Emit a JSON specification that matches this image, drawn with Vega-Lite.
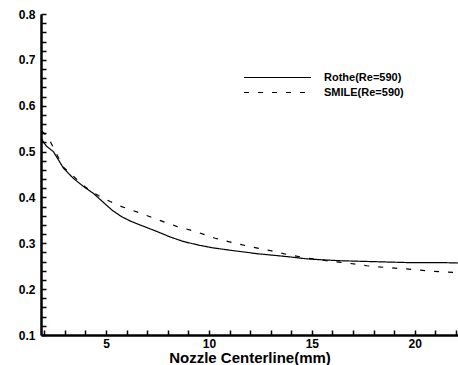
{
  "$schema": "https://vega.github.io/schema/vega-lite/v6.json",
  "width": 417,
  "height": 321,
  "autosize": "none",
  "padding": {"left": 41, "top": 14, "right": 0, "bottom": 30},
  "background": "white",
  "config": {"view": {"stroke": null}, "font": "Liberation Sans"},
  "data": {"values": [
    {"series": "Rothe(Re=590)", "x": 1.84, "y": 0.529},
    {"series": "Rothe(Re=590)", "x": 2.1, "y": 0.512},
    {"series": "Rothe(Re=590)", "x": 2.44, "y": 0.5},
    {"series": "Rothe(Re=590)", "x": 2.93, "y": 0.464},
    {"series": "Rothe(Re=590)", "x": 3.4, "y": 0.442},
    {"series": "Rothe(Re=590)", "x": 3.9, "y": 0.424},
    {"series": "Rothe(Re=590)", "x": 4.38, "y": 0.409},
    {"series": "Rothe(Re=590)", "x": 4.95, "y": 0.386},
    {"series": "Rothe(Re=590)", "x": 5.3, "y": 0.372},
    {"series": "Rothe(Re=590)", "x": 5.76, "y": 0.358},
    {"series": "Rothe(Re=590)", "x": 6.2, "y": 0.348},
    {"series": "Rothe(Re=590)", "x": 6.65, "y": 0.34},
    {"series": "Rothe(Re=590)", "x": 7.46, "y": 0.326},
    {"series": "Rothe(Re=590)", "x": 8.1, "y": 0.314},
    {"series": "Rothe(Re=590)", "x": 8.75, "y": 0.304},
    {"series": "Rothe(Re=590)", "x": 9.5, "y": 0.296},
    {"series": "Rothe(Re=590)", "x": 10.2, "y": 0.29},
    {"series": "Rothe(Re=590)", "x": 11.17, "y": 0.284},
    {"series": "Rothe(Re=590)", "x": 12.4, "y": 0.277},
    {"series": "Rothe(Re=590)", "x": 13.1, "y": 0.274},
    {"series": "Rothe(Re=590)", "x": 14.0, "y": 0.27},
    {"series": "Rothe(Re=590)", "x": 14.75, "y": 0.266},
    {"series": "Rothe(Re=590)", "x": 15.5, "y": 0.264},
    {"series": "Rothe(Re=590)", "x": 16.36, "y": 0.262},
    {"series": "Rothe(Re=590)", "x": 17.98, "y": 0.26},
    {"series": "Rothe(Re=590)", "x": 19.6, "y": 0.258},
    {"series": "Rothe(Re=590)", "x": 21.2, "y": 0.258},
    {"series": "Rothe(Re=590)", "x": 22.1, "y": 0.257},
    {"series": "SMILE(Re=590)", "x": 1.88, "y": 0.545},
    {"series": "SMILE(Re=590)", "x": 2.2, "y": 0.53},
    {"series": "SMILE(Re=590)", "x": 2.5, "y": 0.503},
    {"series": "SMILE(Re=590)", "x": 2.93, "y": 0.466},
    {"series": "SMILE(Re=590)", "x": 3.9, "y": 0.426},
    {"series": "SMILE(Re=590)", "x": 4.4, "y": 0.41},
    {"series": "SMILE(Re=590)", "x": 4.7, "y": 0.402},
    {"series": "SMILE(Re=590)", "x": 5.2, "y": 0.391},
    {"series": "SMILE(Re=590)", "x": 5.76, "y": 0.38},
    {"series": "SMILE(Re=590)", "x": 6.65, "y": 0.366},
    {"series": "SMILE(Re=590)", "x": 7.54, "y": 0.351},
    {"series": "SMILE(Re=590)", "x": 8.43, "y": 0.337},
    {"series": "SMILE(Re=590)", "x": 9.32, "y": 0.326},
    {"series": "SMILE(Re=590)", "x": 10.3, "y": 0.311},
    {"series": "SMILE(Re=590)", "x": 11.1, "y": 0.302},
    {"series": "SMILE(Re=590)", "x": 12.07, "y": 0.292},
    {"series": "SMILE(Re=590)", "x": 12.99, "y": 0.284},
    {"series": "SMILE(Re=590)", "x": 13.85, "y": 0.275},
    {"series": "SMILE(Re=590)", "x": 14.75, "y": 0.268},
    {"series": "SMILE(Re=590)", "x": 15.7, "y": 0.262},
    {"series": "SMILE(Re=590)", "x": 16.7, "y": 0.257},
    {"series": "SMILE(Re=590)", "x": 17.67, "y": 0.251},
    {"series": "SMILE(Re=590)", "x": 18.64, "y": 0.247},
    {"series": "SMILE(Re=590)", "x": 19.6, "y": 0.244},
    {"series": "SMILE(Re=590)", "x": 20.6, "y": 0.24},
    {"series": "SMILE(Re=590)", "x": 21.56, "y": 0.237},
    {"series": "SMILE(Re=590)", "x": 22.1, "y": 0.236}
  ]},
  "resolve": {"axis": {"x": "independent", "y": "independent"}},
  "layer": [
    {
      "mark": {"type": "line", "color": "black", "strokeWidth": 1.2, "clip": true},
      "encoding": {
        "x": {"field": "x", "type": "quantitative",
          "scale": {"domain": [1.84, 22.1], "nice": false, "zero": false},
          "axis": {"orient": "bottom", "ticks": false, "values": [5, 10, 15, 20], "title": "Nozzle Centerline(mm)", "grid": false,
            "domain": true, "domainColor": "black", "domainWidth": 2.5,
            "labelPadding": 3, "labelFont": "Liberation Sans", "labelFontWeight": "bold",
            "labelFontSize": 12, "labelColor": "black", "titleFont": "Liberation Sans", "titleFontWeight": "bold",
            "titleFontSize": 15, "titleColor": "black", "titlePadding": 1}},
        "y": {"field": "y", "type": "quantitative",
          "scale": {"domain": [0.1, 0.8], "nice": false, "zero": false},
          "axis": {"orient": "left", "ticks": false, "values": [0.1, 0.2, 0.3, 0.4, 0.5, 0.6, 0.7, 0.8], "format": ".1f", "title": null, "grid": false,
            "domain": true, "domainColor": "black", "domainWidth": 2.5,
            "labelPadding": 6, "labelFont": "Liberation Sans", "labelFontWeight": "bold",
            "labelFontSize": 12, "labelColor": "black"}},
        "strokeDash": {"field": "series", "type": "nominal",
          "scale": {"domain": ["Rothe(Re=590)", "SMILE(Re=590)"], "range": [[1, 0], [5, 9]]},
          "legend": {"title": null, "orient": "none", "legendX": 227, "legendY": 54,
            "symbolType": "M-3.87,0H3.87", "symbolSize": 300, "symbolStrokeColor": "black", "symbolStrokeWidth": 1.2,
            "labelFont": "Liberation Sans", "labelFontWeight": "bold", "labelFontSize": 11, "labelColor": "black",
            "labelOffset": 37, "rowPadding": 0}}
      }
    },
    {
      "mark": {"type": "line", "opacity": 0},
      "encoding": {
        "x": {"field": "x", "type": "quantitative",
          "axis": {"orient": "top", "offset": -321,
            "values": [2, 3, 4, 5, 6, 7, 8, 9, 10, 11, 12, 13, 14, 15, 16, 17, 18, 19, 20, 21, 22],
            "labels": false, "domain": false, "title": null, "grid": false,
            "tickColor": "black", "tickWidth": 1.5, "tickSize": 5,
            "encode": {"ticks": {"update": {
              "y2": {"signal": "datum.value % 5 === 0 ? -10 : -5"},
              "strokeWidth": {"signal": "datum.value % 5 === 0 ? 2 : 1.5"}}}}}},
        "y": {"field": "y", "type": "quantitative",
          "axis": {"orient": "right", "offset": -417,
            "values": [0.1, 0.12, 0.14, 0.16, 0.18, 0.2, 0.22, 0.24, 0.26, 0.28, 0.3, 0.32, 0.34, 0.36, 0.38, 0.4, 0.42, 0.44, 0.46, 0.48, 0.5, 0.52, 0.54, 0.56, 0.58, 0.6, 0.62, 0.64, 0.66, 0.68, 0.7, 0.72, 0.74, 0.76, 0.78, 0.8],
            "labels": false, "domain": false, "title": null, "grid": false,
            "tickColor": "black", "tickWidth": 1.5, "tickSize": 5,
            "encode": {"ticks": {"update": {
              "x2": {"signal": "abs(datum.value * 10 - round(datum.value * 10)) < 0.001 ? 10 : 5"},
              "strokeWidth": {"signal": "abs(datum.value * 10 - round(datum.value * 10)) < 0.001 ? 2 : 1.5"}}}}}},
        "detail": {"field": "series", "type": "nominal"}
      }
    }
  ]
}
